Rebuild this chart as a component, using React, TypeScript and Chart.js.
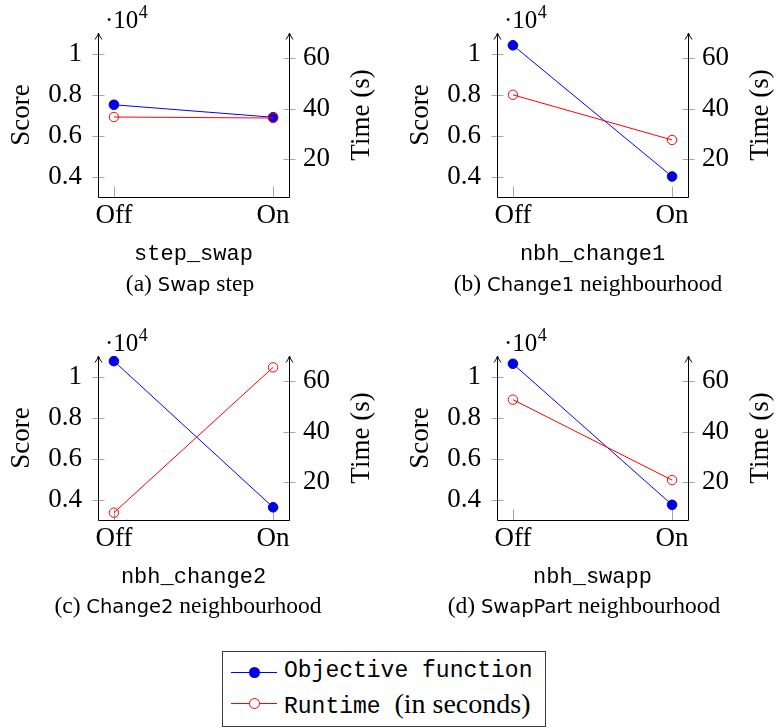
import React, { useEffect, useRef } from 'react';
import { Chart, registerables } from 'chart.js';

Chart.register(...registerables);

// ---------------- data ----------------
const categories = ['Off', 'On'];
const objectiveStepSwap = [7500, 6890];
const runtimeStepSwap = [36.7, 36.3];
const objectiveChange1 = [10400, 4000];
const runtimeChange1 = [45.5, 27.6];
const objectiveChange2 = [10750, 3620];
const runtimeChange2 = [7.9, 65.5];
const objectiveSwapp = [10620, 3740];
const runtimeSwapp = [52.7, 20.8];
const scoreTicks = [4000, 6000, 8000, 10000];
const timeTicks = [20, 40, 60];
const scoreRange = [3000, 11000];
const timeRange = [5, 70];
const parameterNames = ['step_swap', 'nbh_change1', 'nbh_change2', 'nbh_swapp'];
const captionTags = ['(a)', '(b)', '(c)', '(d)'];
const captionNames = ['Swap', 'Change1', 'Change2', 'SwapPart'];
const captionWords = ['step', 'neighbourhood', 'neighbourhood', 'neighbourhood'];
const seriesNames = ['Objective function', 'Runtime'];
const runtimeNote = '(in seconds)';
const leftTitle = 'Score';
const rightTitle = 'Time (s)';

// ---------------- styles ----------------
const SERIF = '"Liberation Serif", "Times New Roman", serif';
const MONO = '"Liberation Mono", "DejaVu Sans Mono", monospace';
const SANS = '"DejaVu Sans", "Noto Sans", sans-serif';
const BLUE = '#0000ff';
const RED = '#ff0000';

const PLOT_LEFT = 98;
const PLOT_RIGHT = 289;
const PLOT_TOP = 33;
const PLOT_BOTTOM = 197;
const CANVAS_H = 272;

const axisPlugin = {
  id: 'pgfAxes',
  beforeDatasetsDraw(chart: any) {
    const { ctx, chartArea } = chart;
    const { left, right, top, bottom } = chartArea;
    const ys = chart.scales.y;
    const y1 = chart.scales.y1;
    const xs = chart.scales.x;
    ctx.save();
    ctx.lineWidth = 1;
    ctx.strokeStyle = '#a6a6a6';
    const seg = (x0: number, y0: number, x1: number, y1_: number) => {
      ctx.beginPath();
      ctx.moveTo(x0, y0);
      ctx.lineTo(x1, y1_);
      ctx.stroke();
    };
    const lx = Math.round(left) + 0.5;
    const rx = Math.round(right) + 0.5;
    const by = Math.round(bottom) + 0.5;
    ys.ticks.forEach((t: any) => {
      const py = Math.round(ys.getPixelForValue(t.value)) + 0.5;
      seg(lx - 6, py, lx + 6, py);
    });
    y1.ticks.forEach((t: any) => {
      const py = Math.round(y1.getPixelForValue(t.value)) + 0.5;
      seg(rx - 6, py, rx + 6, py);
    });
    xs.ticks.forEach((t: any) => {
      const px = Math.round(xs.getPixelForValue(t.value)) + 0.5;
      seg(px, by - 11, px, by);
    });
    ctx.strokeStyle = '#000';
    seg(lx, by, rx, by);
    const axisWithArrow = (x: number) => {
      seg(x, by, x, top + 1);
      ctx.beginPath();
      ctx.moveTo(x - 3.5, top + 6.5);
      ctx.quadraticCurveTo(x - 0.6, top + 2.5, x, top);
      ctx.quadraticCurveTo(x + 0.6, top + 2.5, x + 3.5, top + 6.5);
      ctx.stroke();
    };
    axisWithArrow(lx);
    axisWithArrow(rx);
    ctx.restore();
  },
  afterDraw(chart: any, _args: any, opts: any) {
    const { ctx, chartArea } = chart;
    const { left, right, top, bottom } = chartArea;
    const mid = (top + bottom) / 2;
    ctx.save();
    ctx.fillStyle = '#000';
    ctx.textAlign = 'center';
    ctx.textBaseline = 'middle';
    ctx.font = `27px ${SERIF}`;
    ctx.save();
    ctx.translate(left - 76, mid);
    ctx.rotate(-Math.PI / 2);
    ctx.fillText(opts.leftTitle, 0, 0);
    ctx.restore();
    ctx.save();
    ctx.translate(right + 73, mid);
    ctx.rotate(-Math.PI / 2);
    ctx.fillText(opts.rightTitle, 0, 0);
    ctx.restore();
    // multiplier
    ctx.textAlign = 'left';
    ctx.textBaseline = 'alphabetic';
    ctx.font = `25px ${SERIF}`;
    const base = '\u00b710';
    ctx.fillText(base, left + 7, top - 5);
    const w = ctx.measureText(base).width;
    ctx.font = `18px ${SERIF}`;
    ctx.fillText('4', left + 7 + w + 0.5, top - 15);
    // x title
    ctx.textAlign = 'center';
    ctx.textBaseline = 'middle';
    ctx.font = `22px ${MONO}`;
    ctx.fillText(opts.xTitle, (left + right) / 2, bottom + 57);
    ctx.restore();
  },
};

type PanelProps = {
  idx: number;
  objective: number[];
  runtime: number[];
  x: number;
  y: number;
  width: number;
};

function Panel({ idx, objective, runtime, x, y, width }: PanelProps) {
  const ref = useRef<HTMLCanvasElement | null>(null);
  useEffect(() => {
    if (!ref.current) return;
    const tickFont = { family: SERIF, size: 27 };
    const chart = new Chart(ref.current, {
      type: 'line',
      data: {
        datasets: [
          {
            label: seriesNames[1],
            data: runtime.map((v, i) => ({ x: i, y: v })),
            yAxisID: 'y1',
            borderColor: RED,
            backgroundColor: 'rgba(0,0,0,0)',
            borderWidth: 1,
            pointRadius: 4.7,
            pointBorderWidth: 1,
            pointBorderColor: RED,
            pointBackgroundColor: 'rgba(0,0,0,0)',
            tension: 0,
            clip: false as any,
            order: 0,
          },
          {
            label: seriesNames[0],
            data: objective.map((v, i) => ({ x: i, y: v })),
            yAxisID: 'y',
            borderColor: BLUE,
            backgroundColor: BLUE,
            borderWidth: 1,
            pointRadius: 4.8,
            pointBorderWidth: 1,
            pointBorderColor: '#0000c8',
            pointBackgroundColor: '#0000e8',
            tension: 0,
            clip: false as any,
            order: 1,
          },
        ],
      },
      options: {
        responsive: false,
        animation: false,
        events: [],
        layout: { padding: { top: PLOT_TOP, left: 0, right: 0, bottom: 0 } },
        plugins: {
          legend: { display: false },
          tooltip: { enabled: false },
          pgfAxes: { xTitle: parameterNames[idx], leftTitle, rightTitle },
        } as any,
        scales: {
          x: {
            type: 'linear',
            min: -0.1,
            max: 1.1,
            grid: { display: false, drawTicks: false },
            border: { display: false },
            afterBuildTicks: (s: any) => {
              s.ticks = categories.map((_, i) => ({ value: i }));
            },
            afterFit: (s: any) => {
              s.height = CANVAS_H - PLOT_BOTTOM;
              s.paddingLeft = 0;
              s.paddingRight = 0;
            },
            ticks: {
              font: tickFont,
              color: '#000',
              padding: 3,
              maxRotation: 0,
              autoSkip: false,
              callback: (v: any) => categories[Math.round(Number(v))],
            },
          },
          y: {
            type: 'linear',
            position: 'left',
            min: scoreRange[0],
            max: scoreRange[1],
            grid: { display: false, drawTicks: false },
            border: { display: false },
            afterBuildTicks: (s: any) => {
              s.ticks = scoreTicks.map((v) => ({ value: v }));
            },
            afterFit: (s: any) => {
              s.width = PLOT_LEFT;
              s.paddingTop = 0;
              s.paddingBottom = 0;
            },
            ticks: {
              font: tickFont,
              color: '#000',
              padding: 16,
              autoSkip: false,
              callback: (v: any) => String(Number(v) / 10000),
            },
          },
          y1: {
            type: 'linear',
            position: 'right',
            min: timeRange[0],
            max: timeRange[1],
            grid: { display: false, drawTicks: false },
            border: { display: false },
            afterBuildTicks: (s: any) => {
              s.ticks = timeTicks.map((v) => ({ value: v }));
            },
            afterFit: (s: any) => {
              s.width = width - PLOT_RIGHT;
              s.paddingTop = 0;
              s.paddingBottom = 0;
            },
            ticks: {
              font: tickFont,
              color: '#000',
              padding: 14,
              autoSkip: false,
              callback: (v: any) => String(v),
            },
          },
        },
      } as any,
      plugins: [axisPlugin as any],
    });
    return () => chart.destroy();
  }, []);
  return (
    <canvas
      ref={ref}
      width={width}
      height={CANVAS_H}
      style={{ position: 'absolute', left: x, top: y, width, height: CANVAS_H, display: 'block' }}
    />
  );
}

function Caption({ idx, cx, top }: { idx: number; cx: number; top: number }) {
  return (
    <div
      style={{
        position: 'absolute',
        left: cx - 200,
        top,
        width: 400,
        textAlign: 'center',
        fontFamily: SERIF,
        fontSize: 23.5,
        lineHeight: 1,
        whiteSpace: 'nowrap',
        color: '#000',
      }}
    >
      {captionTags[idx]}{' '}
      <span style={{ fontFamily: SANS, fontSize: 19.5 }}>{captionNames[idx]}</span>{' '}
      {captionWords[idx]}
    </div>
  );
}

function Legend() {
  const rowStyle = (top: number): React.CSSProperties => ({
    position: 'absolute',
    left: 0,
    top,
    width: '100%',
    height: 0,
  });
  return (
    <div
      style={{
        position: 'absolute',
        left: 222,
        top: 651,
        width: 324,
        height: 76,
        boxSizing: 'border-box',
        border: '1px solid #3a3a3a',
        background: '#fff',
      }}
    >
      <div style={rowStyle(20)}>
        <div style={{ position: 'absolute', left: 8, top: 0, width: 46, height: 1, background: BLUE }} />
        <div
          style={{
            position: 'absolute',
            left: 26,
            top: -5,
            width: 11,
            height: 11,
            borderRadius: '50%',
            background: '#0000e8',
          }}
        />
        <div
          style={{
            position: 'absolute',
            left: 61,
            top: -12,
            fontFamily: MONO,
            fontSize: 23,
            lineHeight: 1,
            whiteSpace: 'nowrap',
          }}
        >
          {seriesNames[0]}
        </div>
      </div>
      <div style={rowStyle(51)}>
        <div style={{ position: 'absolute', left: 8, top: 0, width: 46, height: 1, background: RED }} />
        <div
          style={{
            position: 'absolute',
            left: 26,
            top: -5,
            width: 11,
            height: 11,
            boxSizing: 'border-box',
            borderRadius: '50%',
            border: `1px solid ${RED}`,
            background: '#fff',
          }}
        />
        <div
          style={{
            position: 'absolute',
            left: 61,
            top: -13,
            fontFamily: MONO,
            fontSize: 23,
            lineHeight: 1,
            whiteSpace: 'nowrap',
          }}
        >
          {seriesNames[1]} <span style={{ fontFamily: SERIF, fontSize: 28 }}>{runtimeNote}</span>
        </div>
      </div>
    </div>
  );
}

export default function App() {
  return (
    <div
      style={{
        position: 'absolute',
        left: 0,
        top: 0,
        width: 776,
        height: 728,
        background: '#fff',
        overflow: 'hidden',
      }}
    >
      <Panel idx={0} objective={objectiveStepSwap} runtime={runtimeStepSwap} x={0} y={0} width={388} />
      <Panel idx={1} objective={objectiveChange1} runtime={runtimeChange1} x={399} y={0} width={377} />
      <Panel idx={2} objective={objectiveChange2} runtime={runtimeChange2} x={0} y={323} width={388} />
      <Panel idx={3} objective={objectiveSwapp} runtime={runtimeSwapp} x={399} y={323} width={377} />
      <Caption idx={0} cx={190} top={272} />
      <Caption idx={1} cx={588} top={272} />
      <Caption idx={2} cx={188} top={594} />
      <Caption idx={3} cx={584} top={594} />
      <Legend />
    </div>
  );
}
